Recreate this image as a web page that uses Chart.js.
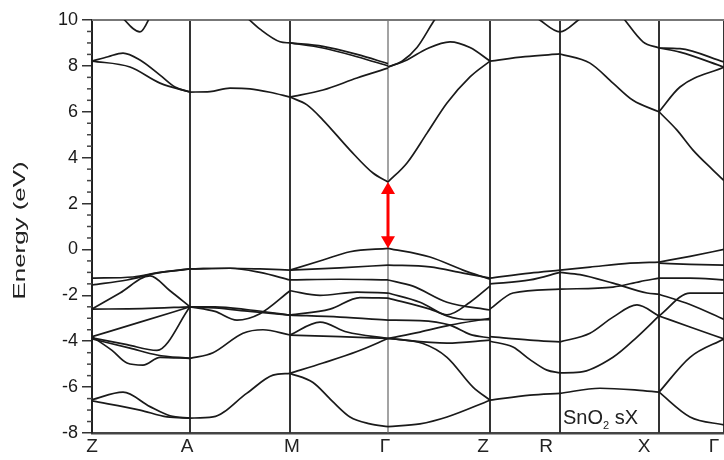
<!DOCTYPE html>
<html>
<head>
<meta charset="utf-8">
<script src="https://cdn.jsdelivr.net/npm/chart.js@4.4.1/dist/chart.umd.min.js"></script>
<style>
  html, body { margin: 0; padding: 0; background: #fff; }
  #wrap { width: 724px; height: 460px; }
</style>
</head>
<body>
<div id="wrap"><canvas id="bands"></canvas></div>
<script>
// high symmetry points along the path (k in arbitrary path units)
const kPoints = [0, 98, 198, 296, 398, 468, 567, 632];
const kLabels = ['Z', 'A', 'M', 'Γ', 'Z', 'R', 'X', 'Γ'];
const energyMin = -8, energyMax = 10, energyStep = 2;

// bands, one polyline per [k, E] list, grouped by path segment
const bandsZA = [
  [[0,-1.25],[41,-1.2],[68,-1.0],[98,-0.85]],
  [[0,-1.55],[35,-1.33],[65,-1.03],[98,-0.85]],
  [[0,-2.6],[28,-1.9],[58,-1.15],[78,-1.8],[98,-2.5]],
  [[0,-2.6],[50,-2.58],[98,-2.5]],
  [[0,-3.8],[48,-3.17],[98,-2.5]],
  [[0,-3.85],[35,-4.15],[65,-4.4],[98,-2.5]],
  [[0,-3.9],[38,-4.3],[65,-4.6],[98,-4.75]],
  [[0,-3.8],[20,-4.4],[35,-4.95],[51,-5.04],[68,-4.7],[98,-4.75]],
  [[0,-6.55],[31,-6.22],[58,-6.85],[78,-7.25],[98,-7.35]],
  [[0,-6.6],[48,-7.0],[75,-7.3],[98,-7.35]],
  [[0,8.21],[16,8.4],[31,8.56],[48,8.26],[68,7.6],[83,7.08],[98,6.86]],
  [[0,8.21],[38,7.95],[68,7.25],[98,6.86]],
  [[26,10.3],[48,9.48],[60,10.3]]
];
const bandsAM = [
  [[98,-0.85],[138,-0.82],[168,-0.85],[198,-0.9]],
  [[98,-0.85],[138,-0.82],[168,-1.0],[198,-1.33]],
  [[98,-2.5],[123,-2.7],[145,-3.08],[168,-2.8],[198,-1.8]],
  [[98,-2.5],[123,-2.55],[158,-2.7],[198,-2.86]],
  [[98,-2.5],[123,-2.5],[158,-2.64],[198,-2.86]],
  [[98,-4.75],[121,-4.5],[151,-3.65],[171,-3.5],[198,-3.73]],
  [[98,-7.35],[121,-7.3],[155,-6.26],[181,-5.48],[198,-5.4]],
  [[98,6.86],[118,6.88],[138,7.03],[158,7.0],[178,6.85],[198,6.64]],
  [[155,10.1],[168,9.6],[188,9.05],[198,9.0]]
];
const bandsMG = [
  [[198,-0.9],[231,-0.46],[258,-0.1],[296,0.05]],
  [[198,-0.9],[248,-0.8],[296,-0.68]],
  [[198,-1.33],[248,-1.3],[296,-1.33]],
  [[198,-1.8],[228,-2.0],[265,-1.86],[296,-1.9]],
  [[198,-2.86],[238,-2.6],[268,-2.1],[296,-2.12]],
  [[198,-2.86],[248,-2.95],[296,-3.08]],
  [[198,-3.73],[228,-3.17],[255,-3.6],[296,-3.88]],
  [[198,-3.73],[248,-3.8],[296,-3.88]],
  [[198,-5.4],[231,-4.95],[265,-4.45],[296,-3.88]],
  [[198,-5.4],[221,-5.8],[240,-6.6],[258,-7.3],[278,-7.6],[296,-7.72]],
  [[198,6.64],[231,6.95],[265,7.47],[296,7.9]],
  [[198,6.64],[215,6.3],[231,5.64],[258,4.33],[281,3.33],[296,2.94]],
  [[198,9.0],[231,8.85],[265,8.5],[296,8.1]],
  [[198,9.0],[231,8.78],[265,8.4],[296,8.0]]
];
const bandsGZ = [
  [[296,0.05],[338,-0.33],[371,-0.9],[398,-1.3]],
  [[296,-0.68],[338,-0.76],[371,-1.03],[398,-1.25]],
  [[296,-1.33],[321,-1.6],[355,-2.3],[398,-2.64]],
  [[296,-1.9],[328,-2.3],[355,-2.9],[378,-3.06],[398,-3.06]],
  [[296,-2.12],[338,-2.6],[355,-2.85],[378,-2.3],[398,-1.6]],
  [[296,-3.08],[328,-3.1],[358,-3.3],[378,-3.7],[398,-3.86]],
  [[296,-3.88],[328,-3.6],[358,-3.3],[398,-3.0]],
  [[296,-3.88],[355,-4.08],[398,-3.95]],
  [[296,-3.88],[331,-4.1],[355,-4.7],[381,-6.0],[398,-6.57]],
  [[296,-7.72],[328,-7.6],[355,-7.3],[398,-6.57]],
  [[296,2.94],[315,3.77],[335,5.07],[355,6.38],[378,7.52],[398,8.21]],
  [[296,7.95],[310,8.2],[325,8.8],[341,9.9],[350,10.5]],
  [[296,7.95],[315,8.26],[335,8.75],[358,9.05],[378,8.8],[398,8.21]]
];
const bandsZR = [
  [[398,-1.25],[438,-1.03],[468,-0.9]],
  [[398,-1.5],[438,-1.33],[468,-1.0]],
  [[398,-2.6],[421,-1.9],[468,-1.73]],
  [[398,-3.8],[438,-3.95],[468,-4.03]],
  [[398,-4.0],[421,-4.25],[438,-4.8],[455,-5.26],[468,-5.38]],
  [[398,-6.57],[438,-6.35],[468,-6.27]],
  [[398,8.21],[433,8.4],[468,8.52]],
  [[446,10.05],[468,9.48],[488,10.05]]
];
const bandsRX = [
  [[468,-0.9],[498,-0.77],[538,-0.6],[567,-0.55]],
  [[468,-1.0],[488,-1.1],[521,-1.47],[555,-1.9],[567,-1.95]],
  [[468,-1.73],[521,-1.64],[548,-1.4],[567,-1.25]],
  [[468,-4.03],[498,-3.65],[521,-2.95],[545,-2.42],[567,-2.9]],
  [[468,-5.38],[488,-5.35],[521,-4.7],[545,-3.82],[567,-2.9]],
  [[468,-6.27],[508,-6.05],[545,-6.13],[567,-6.22]],
  [[468,8.52],[498,8.12],[521,7.25],[541,6.5],[567,6.0]],
  [[531,10.1],[551,9.05],[567,8.78]]
];
const bandsXG = [
  [[567,-0.55],[598,-0.3],[632,0.0]],
  [[567,-0.6],[598,-0.65],[632,-0.68]],
  [[567,-1.25],[598,-1.25],[632,-1.33]],
  [[567,-1.95],[598,-2.4],[632,-3.05]],
  [[567,-2.9],[598,-1.9],[632,-1.9]],
  [[567,-2.9],[598,-3.38],[632,-3.9]],
  [[567,-6.22],[598,-4.7],[632,-3.9]],
  [[567,-6.22],[598,-7.3],[632,-7.65]],
  [[567,8.78],[588,8.75],[632,8.17]],
  [[567,8.78],[588,8.6],[632,7.95]],
  [[567,6.0],[588,7.08],[632,7.95]],
  [[567,6.0],[585,5.2],[601,4.33],[620,3.5],[632,3.0]]
];

// band gap arrow at Gamma
const gapK = 296, vbm = 0.05, cbm = 2.94;

// label nudges in px (the original labels sit a bit left of their lines)
const labelNudge = [0, -3, 2, -3, -7, -14, -15, -10];

const allBands = [].concat(bandsZA, bandsAM, bandsMG, bandsGZ, bandsZR, bandsRX, bandsXG);

const datasets = allBands.map(b => ({
  data: b.map(([x, y]) => ({ x, y })),
  showLine: true,
  pointRadius: 0,
  borderColor: '#1a1a1a',
  borderWidth: 1.7,
  cubicInterpolationMode: 'monotone',
  fill: false
}));

const FONT = "'Liberation Sans', Arial, sans-serif";

const decor = {
  id: 'decor',
  beforeDatasetsDraw(chart) {
    const { ctx, chartArea: a, scales: { x } } = chart;
    ctx.save();
    kPoints.forEach((k, i) => {
      if (i === 0) return;
      const px = Math.round(x.getPixelForValue(k));
      ctx.strokeStyle = (i === 3) ? '#666' : '#333';
      ctx.lineWidth = (i === 3) ? 1.2 : 2;
      ctx.beginPath();
      ctx.moveTo(px, a.top);
      ctx.lineTo(px, a.bottom);
      ctx.stroke();
    });
    // top frame
    ctx.strokeStyle = '#777';
    ctx.lineWidth = 2;
    ctx.beginPath();
    ctx.moveTo(a.left, a.top);
    ctx.lineTo(a.right, a.top);
    ctx.stroke();
    ctx.restore();
  },
  afterDraw(chart) {
    const { ctx, chartArea: a, scales: { x, y } } = chart;
    ctx.save();
    // minor ticks on the energy axis
    ctx.strokeStyle = '#444';
    ctx.lineWidth = 1.5;
    for (let e = energyMin; e <= energyMax; e += 0.5) {
      if (e % energyStep === 0) continue;
      const py = y.getPixelForValue(e);
      ctx.beginPath();
      ctx.moveTo(a.left - 5, py);
      ctx.lineTo(a.left, py);
      ctx.stroke();
    }
    // k-point labels
    ctx.fillStyle = '#222';
    ctx.font = '19px ' + FONT;
    ctx.textAlign = 'center';
    ctx.textBaseline = 'middle';
    kPoints.forEach((k, i) => {
      ctx.fillText(kLabels[i], x.getPixelForValue(k) + labelNudge[i], a.bottom + 14);
    });
    // axis title, stretched along its length
    ctx.save();
    ctx.font = '17px ' + FONT;
    const title = 'Energy (eV)';
    const w = ctx.measureText(title).width;
    ctx.translate(20, (a.top + a.bottom) / 2 + 4);
    ctx.rotate(-Math.PI / 2);
    ctx.scale(138 / w, 1);
    ctx.fillText(title, 0, 0);
    ctx.restore();
    // system label
    ctx.textAlign = 'left';
    ctx.textBaseline = 'alphabetic';
    ctx.font = '20px ' + FONT;
    let tx = a.right - 161, ty = a.bottom - 9;
    ctx.fillText('SnO', tx, ty);
    tx += ctx.measureText('SnO').width;
    ctx.font = '11px ' + FONT;
    ctx.fillText('2', tx, ty + 5);
    tx += ctx.measureText('2').width;
    ctx.font = '20px ' + FONT;
    ctx.fillText(' sX', tx, ty);
    // band gap arrow
    const gx = x.getPixelForValue(gapK);
    const y0 = y.getPixelForValue(vbm), y1 = y.getPixelForValue(cbm);
    const head = 12, half = 7;
    ctx.strokeStyle = '#ff0000';
    ctx.fillStyle = '#ff0000';
    ctx.lineWidth = 3;
    ctx.beginPath();
    ctx.moveTo(gx, y1 + head - 1);
    ctx.lineTo(gx, y0 - head + 1);
    ctx.stroke();
    ctx.beginPath();
    ctx.moveTo(gx, y1);
    ctx.lineTo(gx - half, y1 + head);
    ctx.lineTo(gx + half, y1 + head);
    ctx.closePath();
    ctx.fill();
    ctx.beginPath();
    ctx.moveTo(gx, y0);
    ctx.lineTo(gx - half, y0 - head);
    ctx.lineTo(gx + half, y0 - head);
    ctx.closePath();
    ctx.fill();
    ctx.restore();
  }
};

new Chart(document.getElementById('bands'), {
  type: 'scatter',
  data: { datasets },
  options: {
    responsive: true,
    maintainAspectRatio: false,
    animation: false,
    layout: { padding: { top: 20, right: 0, left: 0, bottom: 0 } },
    plugins: { legend: { display: false }, tooltip: { enabled: false } },
    scales: {
      x: {
        type: 'linear',
        min: kPoints[0],
        max: kPoints[kPoints.length - 1],
        ticks: { display: false },
        grid: { display: false },
        border: { display: true, color: '#444', width: 2.5 },
        afterFit(s) { s.height = 27; }
      },
      y: {
        min: energyMin,
        max: energyMax,
        ticks: {
          stepSize: energyStep,
          color: '#1a1a1a',
          padding: 4,
          font: { family: FONT, size: 18 }
        },
        grid: { drawOnChartArea: false, drawTicks: true, tickLength: 10, color: '#333', lineWidth: 1.5 },
        border: { display: true, color: '#222', width: 2 },
        afterFit(s) { s.width = 92; }
      }
    }
  },
  plugins: [decor]
});
</script>
</body>
</html>
